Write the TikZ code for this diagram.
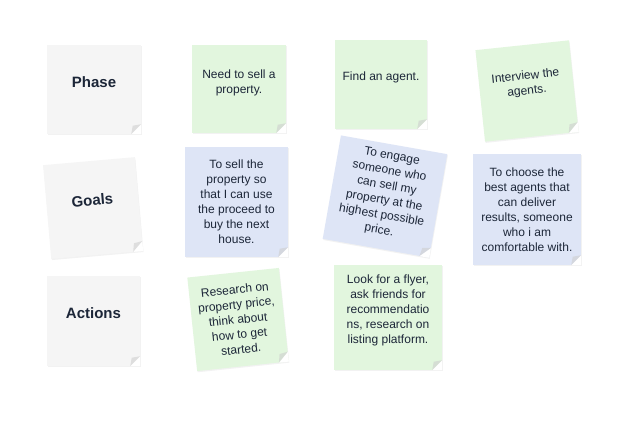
\documentclass[tikz,border=0pt]{standalone}
\usepackage{fontspec}
\setmainfont{Liberation Sans}
\usepackage{tikz}
\usetikzlibrary{calc, shadows}
\definecolor{NoteGreen}{RGB}{226,246,222}
\definecolor{NoteBlue}{RGB}{222,229,246}
\definecolor{NoteGray}{RGB}{245,245,245}
\definecolor{InkDark}{RGB}{28,38,56}
\newcommand\liftup[2][6pt]{\raisebox{#1}[\height][\depth]{\begin{tabular}{@{}c@{}}#2\end{tabular}}}

\begin{document}
\begin{tikzpicture}[x=1pt, y=-1pt,
    note/.style={rectangle, inner sep=0pt, align=center, text=InkDark,
      font=\fontsize{12}{15}\selectfont,
      drop shadow={opacity=0.10, shadow xshift=0.6pt, shadow yshift=-1.2pt}},
    head/.style={note, fill=NoteGray, font=\fontsize{15}{18}\bfseries}]
  \fill[white] (0,0) rectangle (628,421);
  \useasboundingbox (0,0) rectangle (628,421);

  % row labels
  \node[head, minimum width=94pt, minimum height=89pt] (phase) at (94,89.5) {\liftup{Phase}};
  \node[head, minimum width=92pt, minimum height=94pt, rotate=5] (goals) at (93,208) {\liftup{Goals}};
  \node[head, minimum width=93pt, minimum height=90pt] (actions) at (93.5,321) {\liftup{Actions}};

  % phase
  \node[note, fill=NoteGreen, minimum width=94pt, minimum height=88pt] (sell) at (239,89) {\liftup{Need to sell a\\property.}};
  \node[note, fill=NoteGreen, minimum width=92pt, minimum height=89pt] (agent) at (381,84.5) {\liftup[7pt]{Find an agent.}};
  \node[note, fill=NoteGreen, minimum width=94pt, minimum height=92pt, rotate=6] (interview) at (527,91) {\liftup[7pt]{Interview the\\agents.}};

  % goals
  \node[note, fill=NoteBlue, minimum width=103pt, minimum height=110pt] (proceed) at (236.5,202) {To sell the\\property so\\that I can use\\the proceed to\\buy the next\\house.};
  \node[note, fill=NoteBlue, minimum width=108pt, minimum height=105pt, rotate=-10] (engage) at (385,196.5) {\liftup[3pt]{To engage\\someone who\\can sell my\\property at the\\highest possible\\price.}};
  \node[note, fill=NoteBlue, minimum width=108pt, minimum height=111pt] (choose) at (527,209.5) {To choose the\\best agents that\\can deliver\\results, someone\\who i am\\comfortable with.};

  % actions
  \node[note, fill=NoteGreen, minimum width=92pt, minimum height=94pt, rotate=6] (research) at (238,319.5) {Research on\\property price,\\think about\\how to get\\started.};
  \node[note, fill=NoteGreen, minimum width=108pt, minimum height=105pt] (flyer) at (388,317.5) {\liftup[7pt]{Look for a flyer,\\ask friends for\\recommendatio\\ns, research on\\listing platform.}};

  % folded corners
  \foreach \n in {phase,goals,actions,sell,agent,interview,proceed,engage,choose,research,flyer} {
    \coordinate (fa) at ($(\n.south east)!10pt!(\n.north east)$);
    \coordinate (fb) at ($(\n.south east)!10pt!(\n.south west)$);
    \coordinate (fm) at ($(fa)!.5!(fb)$);
    \fill[white] (fa) -- (\n.south east) -- (fb) -- cycle;
    \fill[black!20, opacity=.55] (fa) -- (fb) -- ($(\n.south east)!1.7!(fm)$) -- cycle;
  }
\end{tikzpicture}
\end{document}
